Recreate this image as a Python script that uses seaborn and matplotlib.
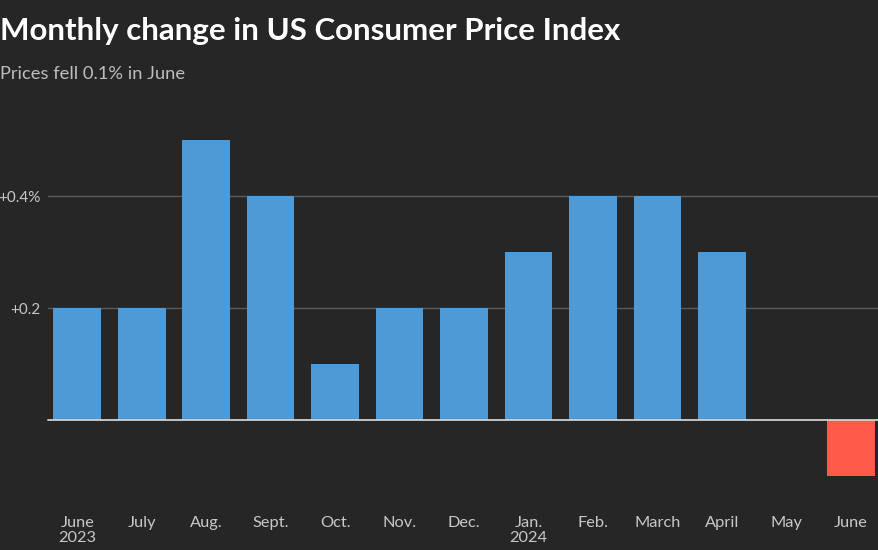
import matplotlib
matplotlib.use("Agg")
import matplotlib.pyplot as plt
import seaborn as sns
import pandas as pd

months = ["June\n2023", "July", "Aug.", "Sept.", "Oct.", "Nov.", "Dec.",
          "Jan.\n2024", "Feb.", "March", "April", "May", "June"]
changes = [0.2, 0.2, 0.5, 0.4, 0.1, 0.2, 0.2, 0.3, 0.4, 0.4, 0.3, 0.0, -0.1]
ytick_vals = [0.2, 0.4]
ytick_labels = ["+0.2", "+0.4%"]

BG = "#262626"
BLUE = "#4d9ad6"
RED = "#ff5a4a"

df = pd.DataFrame({"month": months, "change": changes})
df["sign"] = ["neg" if v < 0 else "pos" for v in changes]

sns.set_style("dark")
plt.rcParams["font.family"] = ["Lato", "DejaVu Sans"]

fig = plt.figure(figsize=(8.79, 5.5), dpi=100, facecolor=BG)
ax = fig.add_axes([45 / 879, 1 - 504 / 550, (883 - 45) / 879, (504 - 112) / 550])
ax.set_facecolor(BG)

sns.barplot(data=df, x="month", y="change", hue="sign",
            palette={"pos": BLUE, "neg": RED}, dodge=False, legend=False,
            saturation=1, width=0.74, ax=ax, zorder=3, linewidth=0)

ax.set_xlim(-0.5, 12.5)
ax.set_ylim(-0.15, 0.55)
for s in ax.spines.values():
    s.set_visible(False)
ax.grid(False)
for v in ytick_vals:
    ax.axhline(v, color="#5a5a5a", lw=1.0, zorder=1, xmin=3 / 838)
ax.axhline(0, color="#d0d0d0", lw=1.3, zorder=4, xmin=3 / 838)

ax.set_yticks(ytick_vals)
ax.set_yticklabels(ytick_labels)
ax.tick_params(axis="y", length=0, pad=3, labelsize=11, labelcolor="#c8c8c8")
ax.tick_params(axis="x", length=0, pad=8.5, labelsize=11.8, labelcolor="#c8c8c8")
for lbl in ax.get_xticklabels():
    lbl.set_linespacing(1.15)
    lbl.set_verticalalignment("top")
ax.set_xlabel("")
ax.set_ylabel("")

fig.text(0.0, 0.943, "Monthly change in US Consumer Price Index", color="white",
         fontsize=22.5, fontweight="bold", va="center", ha="left")
fig.text(0.0, 0.865, "Prices fell 0.1% in June", color="#bdbdbd",
         fontsize=13.2, va="center", ha="left")

fig.savefig("out.png", dpi=100, facecolor=BG)
